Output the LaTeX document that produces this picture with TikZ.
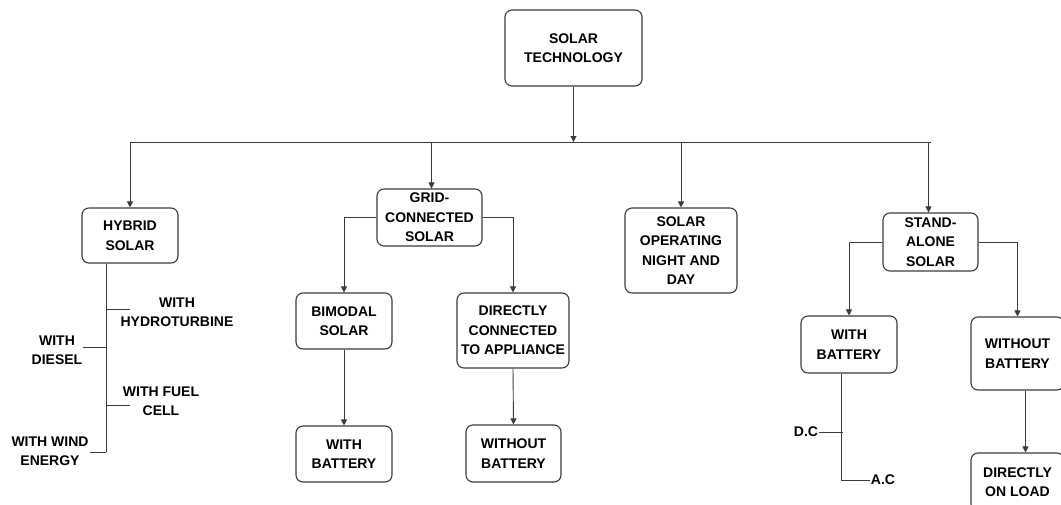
\documentclass[tikz,border=0pt]{standalone}
\usepackage{fontspec}
\setmainfont{Liberation Sans}
\usetikzlibrary{arrows.meta}
\newcommand{\lblfont}{\fontsize{14}{19.5}\selectfont\bfseries}
\definecolor{linec}{HTML}{3A3A3A}
\tikzset{
  box/.style={draw=linec, line width=1.1pt, rounded corners=7pt, align=center,
    font=\lblfont, inner sep=1pt},
  lbl/.style={align=center, font=\lblfont, inner sep=1pt},
  conn/.style={draw=linec, line width=0.9pt},
  arr/.style={conn, -{Triangle[width=6pt,length=6pt]}}
}
\begin{document}
\begin{tikzpicture}[x=1pt,y=-1pt]
\useasboundingbox (0,0) rectangle (1061,504);
\clip (0,0) rectangle (1061,504);
% boxes
\node[box, minimum width=137pt, minimum height=76pt] (top) at (573.5,48) {SOLAR\\TECHNOLOGY};
\node[box, minimum width=96pt, minimum height=55pt] (hyb) at (130,235.5) {HYBRID\\SOLAR};
\node[box, minimum width=105pt, minimum height=57pt] (grid) at (429.5,217.5) {GRID-\\CONNECTED\\SOLAR};
\node[box, minimum width=112pt, minimum height=85pt] (sop) at (681,250.5) {SOLAR\\OPERATING\\NIGHT AND\\DAY};
\node[box, minimum width=95pt, minimum height=58pt] (sa) at (930.5,242) {STAND-\\ALONE\\SOLAR};
\node[box, minimum width=96pt, minimum height=56pt] (bim) at (344,321) {BIMODAL\\SOLAR};
\node[box, minimum width=96pt, minimum height=56pt] (wb1) at (344,454) {WITH\\BATTERY};
\node[box, minimum width=112pt, minimum height=75pt] (dca) at (513,330.5) {DIRECTLY\\CONNECTED\\TO APPLIANCE};
\node[box, minimum width=95pt, minimum height=57pt] (wob1) at (513.5,453.5) {WITHOUT\\BATTERY};
\node[box, minimum width=96pt, minimum height=57pt] (wb2) at (849,344.5) {WITH\\BATTERY};
\node[box, minimum width=93pt, minimum height=73pt] (wob2) at (1017.5,353.5) {WITHOUT\\BATTERY};
\node[box, minimum width=93pt, minimum height=58pt] (dol) at (1017.5,482) {DIRECTLY\\ON LOAD};
% labels on the hybrid spine
\node[lbl] (hydro) at (177,312) {WITH\\HYDROTURBINE};
\node[lbl] (diesel) at (57,350) {WITH\\DIESEL};
\node[lbl] (fuel) at (161,401) {WITH FUEL\\CELL};
\node[lbl] (wind) at (50,451) {WITH WIND\\ENERGY};
\node[lbl] (dc) at (806,432) {D.C};
\node[lbl] (ac) at (883,480) {A.C};
% main bus
\coordinate (bus) at (0,142);
\draw[arr] (top.south) -- (top.south |- bus);
\draw[conn] (hyb.north |- bus) -- (sa.north |- bus);
\draw[arr] (hyb.north |- bus) -- (hyb.north);
\draw[arr] ([xshift=2pt]grid.north |- bus) -- ([xshift=2pt]grid.north);
\draw[arr] (sop.north |- bus) -- (sop.north);
\draw[arr] ([xshift=-2pt]sa.north |- bus) -- ([xshift=-2pt]sa.north);
% grid-connected branches
\draw[arr] (grid.west) -| (bim.north);
\draw[arr] (grid.east) -| (dca.north);
\draw[arr] (bim.south) -- (wb1.north);
\draw[arr] (dca.south) -- (wob1.north);
% stand-alone branches
\draw[arr] (sa.west) -| (wb2.north);
\draw[arr] (sa.east) -| (wob2.north);
\draw[arr] ([xshift=8pt]wob2.south) -- ([xshift=8pt]dol.north);
% hybrid spine
\coordinate (hs) at ([xshift=-24pt]hyb.south);
\coordinate (he) at (106,452);
\draw[conn] (hs) -- (he);
\coordinate (t1) at (106,309);
\coordinate (t2) at (106,347);
\coordinate (t3) at (106,405);
\draw[conn] (t1) -- (t1 -| 130,0);
\draw[conn] (t2) -- (t2 -| diesel.east);
\draw[conn] (t3) -- (t3 -| 130,0);
\draw[conn] (he) -- (he -| wind.east);
% with battery spine
\coordinate (bs) at ([xshift=-8pt]wb2.south);
\coordinate (be) at (841,480);
\coordinate (bd) at (843,432);
\draw[conn] (bs) -- (be);
\draw[conn] (dc.east |- bd) -- (bd);
\draw[conn] (be) -- (ac.west);
\end{tikzpicture}
\end{document}
